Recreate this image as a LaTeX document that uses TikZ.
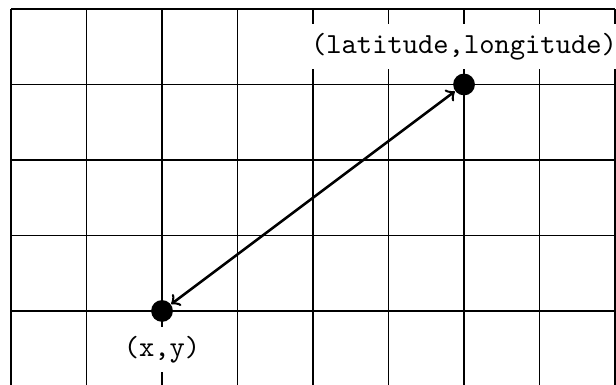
\documentclass[tikz,border=0pt]{standalone}
\begin{document}
\begin{tikzpicture}[x=26.7pt,y=26.7pt,
  gridline/.style={line width=0.4pt, black},
  dot/.style={circle, fill=black, inner sep=0pt, minimum size=7.7pt},
  lbl/.style={fill=white, inner sep=3.2pt, font=\fontsize{10.3}{12}\selectfont\ttfamily},
  link/.style={line width=0.9pt, <->}]
\path[use as bounding box, clip] (-0.146,0.02) rectangle (8.013,5.119);
\draw[gridline, step={(1,1)}] (0,0) grid (8,5);
\node[dot] (ll) at (6,4) {};
\node[dot] (xy) at (2,1) {};
\node[lbl, anchor=south] (lltext) at ([yshift=1.2pt]ll.north) {(latitude,longitude)};
\node[lbl, anchor=north] (xytext) at ([yshift=-1.5pt]xy.south) {(x,y)};
\draw[link] (xy) -- (ll);
\end{tikzpicture}
\end{document}
